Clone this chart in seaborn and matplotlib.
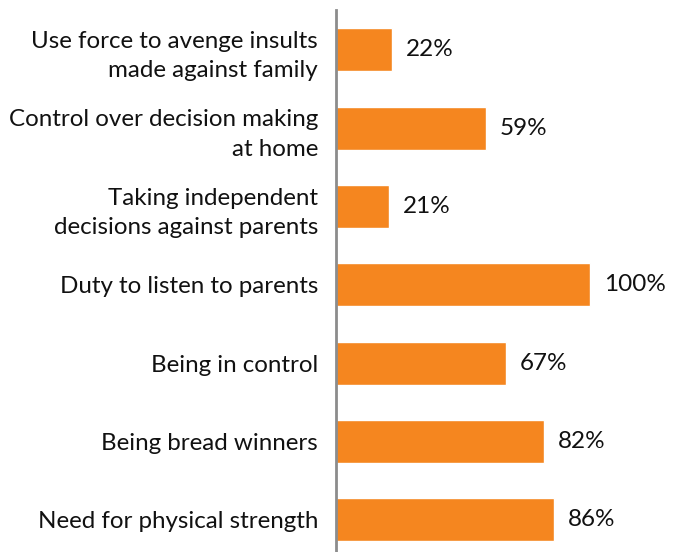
import matplotlib
matplotlib.use("Agg")
import matplotlib.pyplot as plt
import seaborn as sns
import pandas as pd

categories = [
    "Use force to avenge insults\nmade against family",
    "Control over decision making\nat home",
    "Taking independent\ndecisions against parents",
    "Duty to listen to parents",
    "Being in control",
    "Being bread winners",
    "Need for physical strength",
]
values = [22, 59, 21, 100, 67, 82, 86]
value_labels = ["22%", "59%", "21%", "100%", "67%", "82%", "86%"]

sns.set_style("white")
plt.rcParams['font.family'] = ['Lato', 'DejaVu Sans']

df = pd.DataFrame({'category': categories, 'value': values})

fig = plt.figure(figsize=(6.82, 5.52), dpi=100)
ax = fig.add_axes([336 / 682, 0, 346 / 682, 1 - 10 / 552])

sns.barplot(data=df, x='value', y='category', orient='h',
            color='#F5861F', saturation=1, width=0.55, ax=ax)

# value labels to the right of each bar
ax.bar_label(ax.containers[0], labels=value_labels, padding=10,
             fontsize=17.5, color='#111111')

ax.set_xlim(0, 100 * 346 / 254)
ax.set_ylim(6.41, -0.51)
ax.set_xlabel('')
ax.set_ylabel('')
ax.set_xticks([])
ax.tick_params(axis='y', length=0, pad=13, labelsize=17.4, labelcolor='#111111')
for lbl in ax.get_yticklabels():
    lbl.set_horizontalalignment('right')
    lbl.set_multialignment('right')
    lbl.set_linespacing(1.5)

for side in ['top', 'right', 'bottom']:
    ax.spines[side].set_visible(False)
ax.spines['left'].set_color('#8c8c8c')
ax.spines['left'].set_linewidth(2)

fig.savefig('out.png', dpi=100)
